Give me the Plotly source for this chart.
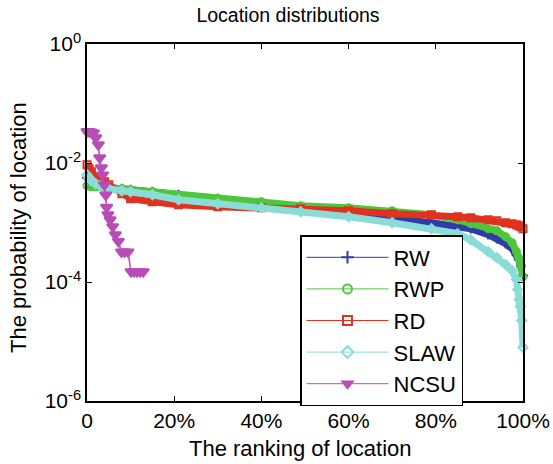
import plotly.graph_objects as go

# Ranking of each location (% of all locations) and its visit probability
rw_rank = [0, 0.5, 1, 2, 3, 4, 5, 8, 10, 15, 21, 30, 40, 49, 60, 70, 79, 85, 88, 92, 94, 96, 97.5, 98.5, 99, 99.5, 100]
rw_prob = [0.00565, 0.00522, 0.00484, 0.00431, 0.00414, 0.00399, 0.00384, 0.00369, 0.00355, 0.00329, 0.00293,
           0.00251, 0.00215, 0.00177, 0.00146, 0.00116, 0.000993, 0.000851, 0.000787, 0.000624, 0.000535,
           0.000441, 0.000363, 0.000288, 0.000238, 0.000188, 0.000128]

rwp_rank = [0, 0.5, 1, 2, 3, 4, 5, 8, 10, 15, 21, 30, 40, 49, 60, 70, 79, 85, 88, 92, 94, 96, 97.5, 98.5, 99, 99.5, 100]
rwp_prob = [0.00414, 0.00414, 0.00399, 0.00399, 0.00399, 0.00384, 0.00384, 0.00369, 0.00355, 0.00329, 0.00282,
            0.00251, 0.00223, 0.00191, 0.00177, 0.00158, 0.00135, 0.00111, 0.000955, 0.000787, 0.000728,
            0.000578, 0.000458, 0.000324, 0.000257, 0.000181, 0.000123]

rd_rank = [0, 0.5, 1, 2, 3, 4, 5, 8, 10, 15, 21, 30, 40, 49, 60, 70, 79, 85, 88, 92, 94, 96, 97.5, 98.5, 99, 99.5, 100]
rd_prob = [0.00933, 0.00800, 0.00711, 0.00586, 0.00522, 0.00484, 0.00431, 0.00304, 0.00251, 0.00223, 0.00199,
           0.00184, 0.00177, 0.00170, 0.00158, 0.00141, 0.00135, 0.00125, 0.00120, 0.00111, 0.00107,
           0.000993, 0.000955, 0.000918, 0.000884, 0.000851, 0.000787]

slaw_rank = [0, 0.5, 1, 2, 3, 4, 5, 8, 10, 15, 21, 30, 40, 49, 60, 70, 79, 85, 88, 92, 94, 96, 97.5, 98.5,
             98.8, 99.1, 99.4, 99.7, 100]
slaw_prob = [0.00634, 0.00565, 0.00503, 0.00448, 0.00414, 0.00384, 0.00369, 0.00342, 0.00329, 0.00293, 0.00241,
             0.00207, 0.00177, 0.00152, 0.00125, 0.000993, 0.000787, 0.000649, 0.000514, 0.000324, 0.000257,
             0.000196, 0.000155, 0.000110, 0.0000745, 0.0000507, 0.0000387, 0.0000225, 0.00000793]

ncsu_rank = [0, 0.5, 1.0, 1.5, 2.0, 2.6, 2.9, 3.3, 3.6, 4.0, 4.3, 4.5, 4.8, 5.3, 5.9, 6.5, 7.2, 7.9, 8.6, 9.4,
             10.1, 10.8, 11.5, 12.2, 12.9]
ncsu_prob = [0.0338, 0.0338, 0.0330, 0.0320, 0.0265, 0.0202, 0.0122, 0.0083, 0.0063, 0.0043, 0.0029, 0.0018,
             0.00135, 0.00111, 0.00085, 0.00062, 0.00048, 0.00032, 0.00032, 0.00032,
             0.000149, 0.000149, 0.000149, 0.000149, 0.000149]

x_tickvals = [0, 20, 40, 60, 80, 100]
x_ticktext = ["0", "20%", "40%", "60%", "80%", "100%"]
y_tickvals = [1e-6, 1e-4, 1e-2, 1]
y_ticktext = ["10<sup>-6</sup>", "10<sup>-4</sup>", "10<sup>-2</sup>", "10<sup>0</sup>"]

series = [
    ("RW", rw_rank, rw_prob, "#2E3CA8", "cross-thin-open", 7),
    ("RWP", rwp_rank, rwp_prob, "#4EC63C", "circle-open", 7),
    ("RD", rd_rank, rd_prob, "#E0321F", "square-open", 7),
    ("SLAW", slaw_rank, slaw_prob, "#8ADDD6", "diamond-open", 7),
    ("NCSU", ncsu_rank, ncsu_prob, "#B94DB6", "triangle-down", 10),
]

FONT = "Liberation Sans, Arial, sans-serif"

fig = go.Figure()

for name, xs, ys, color, symbol, msize in series:
    band = 1.5 if name == "NCSU" else 7
    fig.add_trace(go.Scatter(
        x=xs, y=ys, mode="lines+markers", name=name, showlegend=False,
        line=dict(color=color, width=band),
        marker=dict(symbol=symbol, size=msize, color=color, line=dict(color=color, width=2)),
        cliponaxis=False,
    ))

# legend entries drawn with thin lines, like the plotting defaults
for name, xs, ys, color, symbol, msize in series:
    fig.add_trace(go.Scatter(
        x=[None], y=[None], mode="lines+markers", name=name, legendgroup=name,
        line=dict(color=color, width=1),
        marker=dict(symbol=symbol, size=9, color=color, line=dict(color=color, width=2)),
    ))

axis_common = dict(
    showline=True, linecolor="black", linewidth=1.5, mirror="ticks",
    ticks="inside", ticklen=5, tickwidth=1, tickcolor="black",
    showgrid=False, zeroline=False,
    tickfont=dict(family=FONT, size=21, color="black"),
)

fig.update_xaxes(range=[0, 100], tickvals=x_tickvals, ticktext=x_ticktext, **axis_common)
fig.update_yaxes(type="log", range=[-6, 0], tickvals=y_tickvals, ticktext=y_ticktext, **axis_common)

fig.update_layout(
    width=553, height=464,
    margin=dict(l=87, r=30, t=44, b=63, autoexpand=False),
    paper_bgcolor="white", plot_bgcolor="white",
    font=dict(family=FONT, color="black"),
    title=dict(text="Location distributions", x=288 / 553, xref="container", xanchor="center",
               y=1 - 15 / 464, yref="container", yanchor="middle",
               font=dict(family=FONT, size=19.5, color="black")),
    legend=dict(x=(300 - 87) / 436, y=(401 - 235) / 357, xanchor="left", yanchor="top",
                bgcolor="white", bordercolor="black", borderwidth=1.5,
                font=dict(family=FONT, size=22, color="black"),
                itemwidth=82, tracegroupgap=6, traceorder="normal"),
    annotations=[
        dict(text="The ranking of location", xref="paper", yref="paper",
             x=(300 - 87) / 436, y=-(448 - 401) / 357, xanchor="center", yanchor="middle",
             showarrow=False, font=dict(family=FONT, size=22, color="black")),
        dict(text="The probability of location", xref="paper", yref="paper",
             x=-(87 - 19) / 436, y=(401 - 228) / 357, xanchor="center", yanchor="middle",
             textangle=-90, showarrow=False, font=dict(family=FONT, size=22, color="black")),
    ],
)

fig.write_html("out.html")
